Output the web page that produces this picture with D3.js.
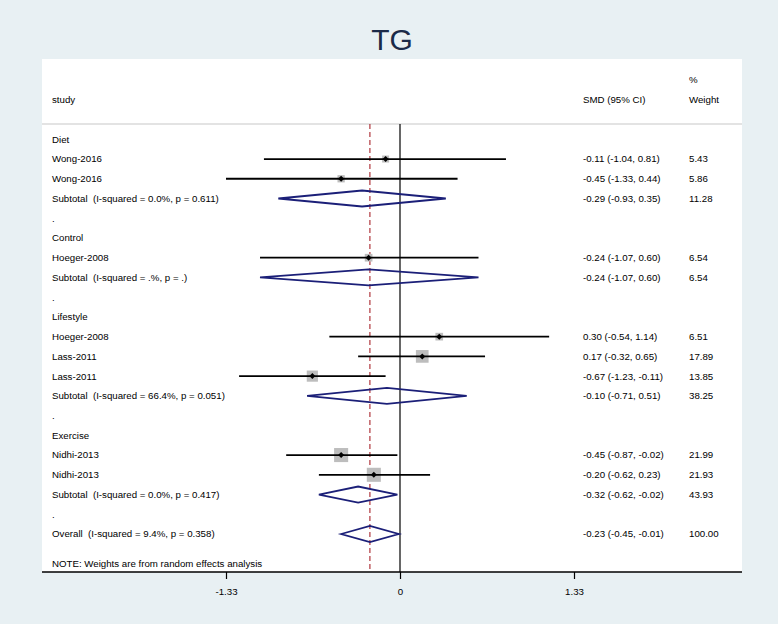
<!DOCTYPE html>
<html>
<head>
<meta charset="utf-8">
<script src="https://cdn.jsdelivr.net/npm/d3@7"></script>
<style>
  html, body { margin: 0; padding: 0; background: #e8f0f3; }
  svg { display: block; }
  text { font-family: "Liberation Sans", Arial, Helvetica, sans-serif; white-space: pre; }
</style>
</head>
<body>
<svg id="chart" width="778" height="624"></svg>
<script>
// ---- data ----
const rowLabels = [
  "Diet", "Wong-2016", "Wong-2016", "Subtotal  (I-squared = 0.0%, p = 0.611)", ".",
  "Control", "Hoeger-2008", "Subtotal  (I-squared = .%, p = .)", ".",
  "Lifestyle", "Hoeger-2008", "Lass-2011", "Lass-2011", "Subtotal  (I-squared = 66.4%, p = 0.051)", ".",
  "Exercise", "Nidhi-2013", "Nidhi-2013", "Subtotal  (I-squared = 0.0%, p = 0.417)", ".",
  "Overall  (I-squared = 9.4%, p = 0.358)"
];
const rowTypes = [
  "group", "study", "study", "pooled", "blank",
  "group", "study", "pooled", "blank",
  "group", "study", "study", "study", "pooled", "blank",
  "group", "study", "study", "pooled", "blank",
  "pooled"
];
const estimates = [null, -0.11, -0.45, -0.29, null, null, -0.24, -0.24, null, null, 0.30, 0.17, -0.67, -0.10, null, null, -0.45, -0.20, -0.32, null, -0.23];
const lower     = [null, -1.04, -1.33, -0.93, null, null, -1.07, -1.07, null, null, -0.54, -0.32, -1.23, -0.71, null, null, -0.87, -0.62, -0.62, null, -0.45];
const upper     = [null,  0.81,  0.44,  0.35, null, null,  0.60,  0.60, null, null,  1.14,  0.65, -0.11,  0.51, null, null, -0.02,  0.23, -0.02, null, -0.01];
const weights   = [null,  5.43,  5.86, 11.28, null, null,  6.54,  6.54, null, null,  6.51, 17.89, 13.85, 38.25, null, null, 21.99, 21.93, 43.93, null, 100.00];
const overallEstimate = -0.23;
const tickValues = [-1.33, 0, 1.33];
const tickLabels = ["-1.33", "0", "1.33"];
const chartTitle = "TG";
const colHeaders = ["study", "SMD (95% CI)", "% Weight"];
const noteText = "NOTE: Weights are from random effects analysis";

// ---- layout ----
const svg = d3.select("#chart");
const W = 778, H = 624;
const panel = { x0: 42, x1: 742, y0: 59, y1: 572 };
const sepY = 124;
const textX = 52, smdX = 583, wtX = 689;
const fs = 9.7;

svg.append("rect").attr("x", 0).attr("y", 0).attr("width", W).attr("height", H).attr("fill", "#e8f0f3");
svg.append("rect").attr("x", panel.x0).attr("y", panel.y0)
  .attr("width", panel.x1 - panel.x0).attr("height", panel.y1 - panel.y0).attr("fill", "#ffffff");

// title
svg.append("text").attr("x", 392).attr("y", 49.5).attr("text-anchor", "middle")
  .attr("font-size", 30).attr("fill", "#1b2a48").text(chartTitle);

// scales
const x = d3.scaleLinear().domain([-1.33, 1.33]).range([226, 574]);
const y = d3.scaleLinear().domain([0, 20]).range([139.3, 534]);

// header
svg.append("text").attr("x", textX).attr("y", y(-2)).attr("dy", "0.35em").attr("font-size", fs).text(colHeaders[0]);
svg.append("text").attr("x", smdX).attr("y", y(-2)).attr("dy", "0.35em").attr("font-size", fs).text(colHeaders[1]);
svg.append("text").attr("x", wtX).attr("y", y(-3)).attr("dy", "0.35em").attr("font-size", fs).text("%");
svg.append("text").attr("x", wtX).attr("y", y(-2)).attr("dy", "0.35em").attr("font-size", fs).text("Weight");
svg.append("line").attr("x1", panel.x0).attr("x2", panel.x1).attr("y1", sepY).attr("y2", sepY)
  .attr("stroke", "#c8c8c8").attr("stroke-width", 1.2);

// zero line
svg.append("line").attr("x1", x(0)).attr("x2", x(0)).attr("y1", sepY).attr("y2", panel.y1)
  .attr("stroke", "#000").attr("stroke-width", 1.2);
// overall dashed line
svg.append("line").attr("x1", x(overallEstimate)).attr("x2", x(overallEstimate)).attr("y1", sepY).attr("y2", panel.y1)
  .attr("stroke", "#a8232a").attr("stroke-width", 1.1).attr("stroke-dasharray", "5,3");

const rows = rowLabels.map((lab, i) => ({ i, lab, type: rowTypes[i], est: estimates[i], lo: lower[i], hi: upper[i], w: weights[i] }));

// labels
svg.append("g").selectAll("text").data(rows).join("text")
  .attr("x", textX).attr("y", d => y(d.i)).attr("dy", "0.35em").attr("font-size", fs).attr("fill", "#000")
  .text(d => d.lab);

const fmt = v => v.toFixed(2);
const dataRows = rows.filter(d => d.est !== null);
svg.append("g").selectAll("text").data(dataRows).join("text")
  .attr("x", smdX).attr("y", d => y(d.i)).attr("dy", "0.35em").attr("font-size", fs)
  .text(d => `${fmt(d.est)} (${fmt(d.lo)}, ${fmt(d.hi)})`);
svg.append("g").selectAll("text").data(dataRows).join("text")
  .attr("x", wtX).attr("y", d => y(d.i)).attr("dy", "0.35em").attr("font-size", fs)
  .text(d => fmt(d.w));

// study markers
const studies = rows.filter(d => d.type === "study");
const boxSide = w => 3.0 * Math.sqrt(w);
svg.append("g").selectAll("rect").data(studies).join("rect")
  .attr("x", d => x(d.est) - boxSide(d.w) / 2).attr("y", d => y(d.i) - boxSide(d.w) / 2)
  .attr("width", d => boxSide(d.w)).attr("height", d => boxSide(d.w))
  .attr("fill", "#bdbdbd");
svg.append("g").selectAll("line").data(studies).join("line")
  .attr("x1", d => x(d.lo)).attr("x2", d => x(d.hi)).attr("y1", d => y(d.i)).attr("y2", d => y(d.i))
  .attr("stroke", "#000").attr("stroke-width", 1.8);
svg.append("g").selectAll("path").data(studies).join("path")
  .attr("d", d => {
    const cx = x(d.est), cy = y(d.i), r = 3;
    return `M${cx},${cy - r}L${cx + r},${cy}L${cx},${cy + r}L${cx - r},${cy}Z`;
  })
  .attr("fill", "#000");

// pooled diamonds
const pooled = rows.filter(d => d.type === "pooled");
const dh = 8;
svg.append("g").selectAll("path").data(pooled).join("path")
  .attr("d", d => {
    const cy = y(d.i);
    return `M${x(d.lo)},${cy}L${x(d.est)},${cy - dh}L${x(d.hi)},${cy}L${x(d.est)},${cy + dh}Z`;
  })
  .attr("fill", "none").attr("stroke", "#1b1f78").attr("stroke-width", 1.8).attr("stroke-linejoin", "miter");

// note
svg.append("text").attr("x", textX).attr("y", y(21.5)).attr("dy", "0.35em").attr("font-size", fs).text(noteText);

// axis
svg.append("line").attr("x1", panel.x0).attr("x2", panel.x1).attr("y1", panel.y1).attr("y2", panel.y1)
  .attr("stroke", "#000").attr("stroke-width", 1.3);
const axis = d3.axisBottom(x).tickValues(tickValues).tickFormat((d, i) => tickLabels[i]).tickSize(7).tickPadding(9).tickSizeOuter(0);
const gAxis = svg.append("g").attr("transform", `translate(0,${panel.y1})`).call(axis);
gAxis.select(".domain").remove();
gAxis.selectAll(".tick line").attr("stroke", "#000").attr("stroke-width", 1.2);
gAxis.selectAll(".tick text").attr("font-size", fs).attr("fill", "#000")
  .attr("font-family", "'Liberation Sans', Arial, Helvetica, sans-serif");
</script>
</body>
</html>
